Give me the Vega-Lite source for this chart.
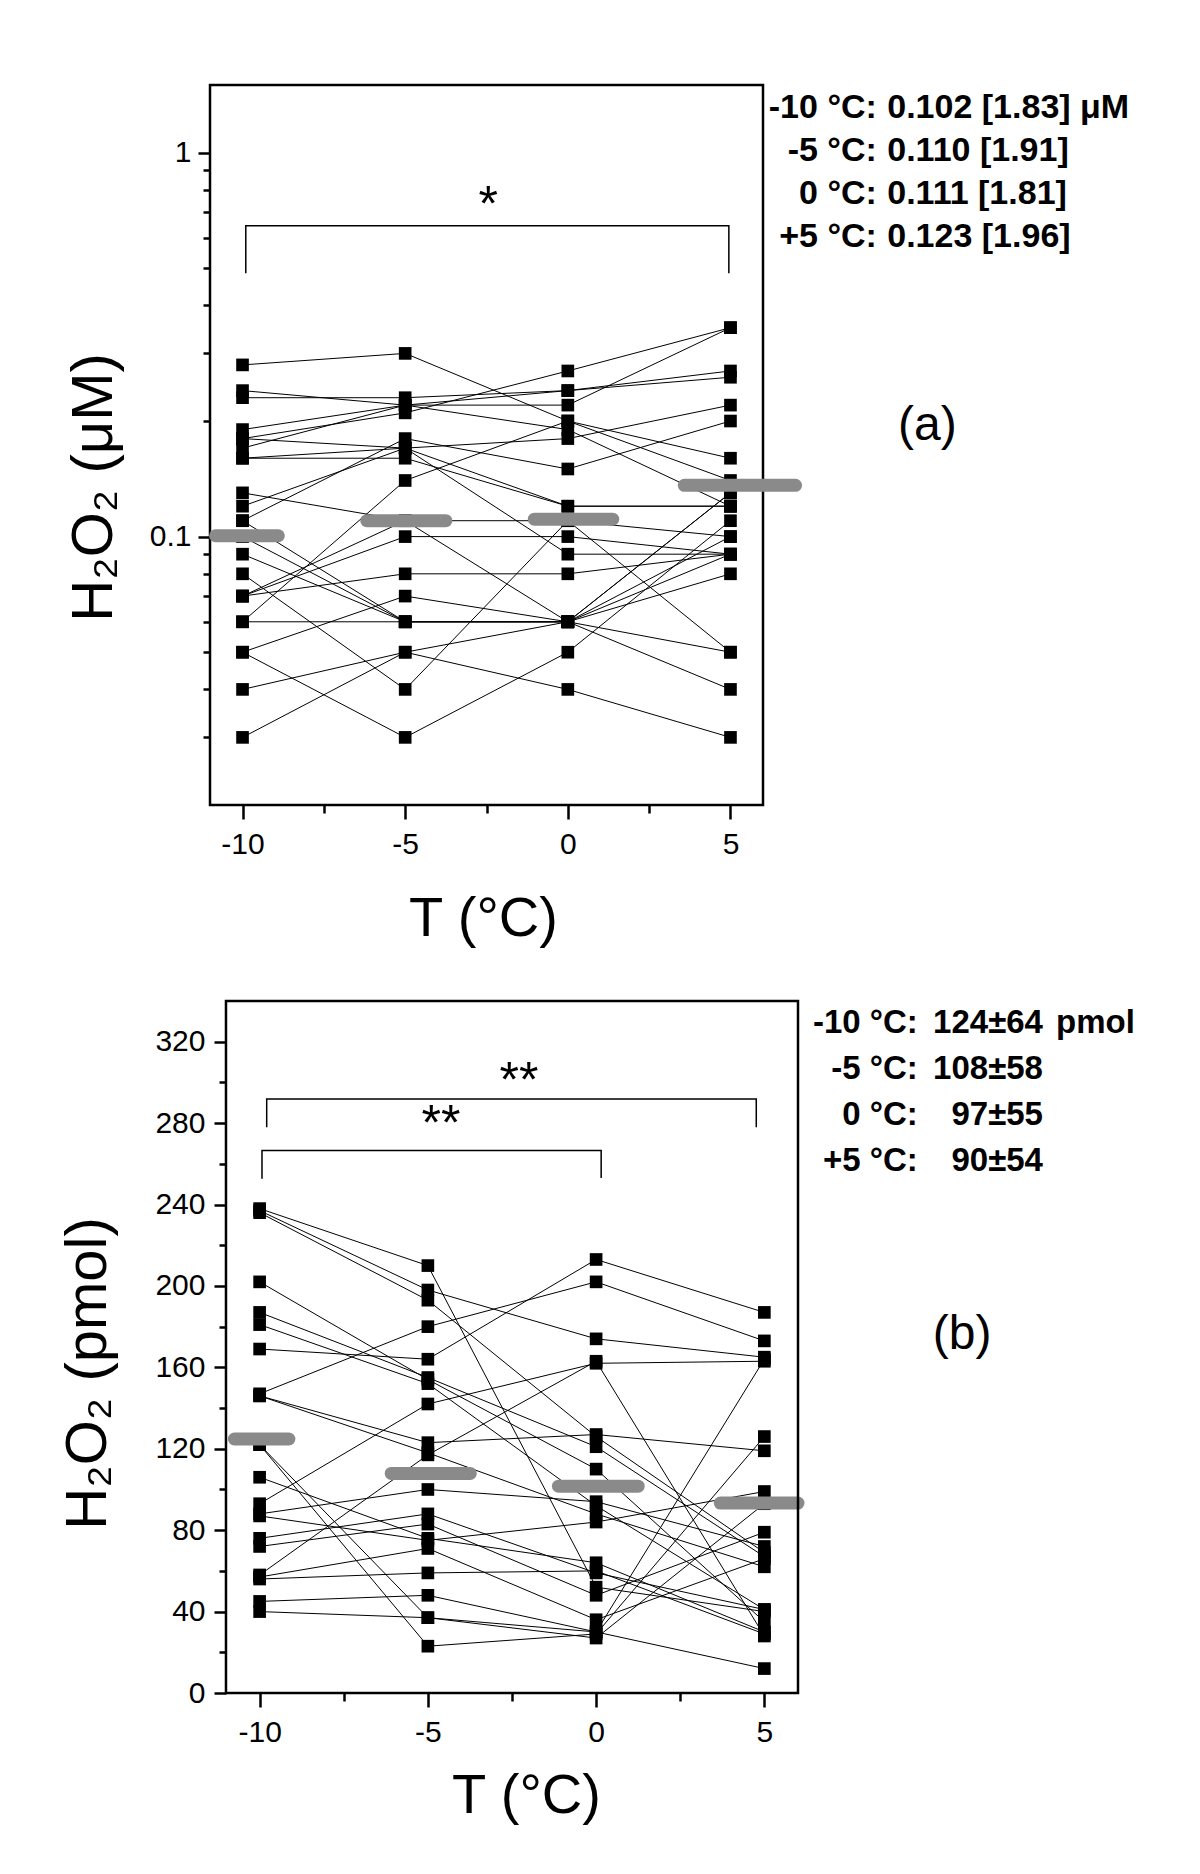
{
  "$schema": "https://vega.github.io/schema/vega-lite/v6.json",
  "background": "white",
  "padding": {"left": 59, "top": 83, "right": 10, "bottom": 10},
  "bounds": "full",
  "spacing": 51,
  "config": {
    "view": {"stroke": "black", "strokeWidth": 2.5},
    "axis": {"domain": false, "grid": false, "tickColor": "black", "tickWidth": 2.5, "labelColor": "black", "labelFont": "Liberation Sans", "labelFontSize": 30, "titleFont": "Liberation Sans", "titleFontSize": 58, "titleFontWeight": "normal", "titleColor": "black"}
  },
  "datasets": {
    "a": [
      {"id":1,"T":-10,"v":0.28},{"id":1,"T":-5,"v":0.30},{"id":1,"T":0,"v":0.20},{"id":1,"T":5,"v":0.16},
      {"id":2,"T":-10,"v":0.24},{"id":2,"T":-5,"v":0.22},{"id":2,"T":0,"v":0.19},{"id":2,"T":5,"v":0.12},
      {"id":3,"T":-10,"v":0.23},{"id":3,"T":-5,"v":0.23},{"id":3,"T":0,"v":0.24},{"id":3,"T":5,"v":0.27},
      {"id":4,"T":-10,"v":0.19},{"id":4,"T":-5,"v":0.22},{"id":4,"T":0,"v":0.24},{"id":4,"T":5,"v":0.26},
      {"id":5,"T":-10,"v":0.18},{"id":5,"T":-5,"v":0.21},{"id":5,"T":0,"v":0.27},{"id":5,"T":5,"v":0.35},
      {"id":6,"T":-10,"v":0.17},{"id":6,"T":-5,"v":0.22},{"id":6,"T":0,"v":0.22},{"id":6,"T":5,"v":0.35},
      {"id":7,"T":-10,"v":0.16},{"id":7,"T":-5,"v":0.17},{"id":7,"T":0,"v":0.18},{"id":7,"T":5,"v":0.22},
      {"id":8,"T":-10,"v":0.13},{"id":8,"T":-5,"v":0.11},{"id":8,"T":0,"v":0.11},{"id":8,"T":5,"v":0.05},
      {"id":9,"T":-10,"v":0.12},{"id":9,"T":-5,"v":0.17},{"id":9,"T":0,"v":0.12},{"id":9,"T":5,"v":0.12},
      {"id":10,"T":-10,"v":0.11},{"id":10,"T":-5,"v":0.18},{"id":10,"T":0,"v":0.15},{"id":10,"T":5,"v":0.20},
      {"id":11,"T":-10,"v":0.10},{"id":11,"T":-5,"v":0.06},{"id":11,"T":0,"v":0.06},{"id":11,"T":5,"v":0.09},
      {"id":12,"T":-10,"v":0.11},{"id":12,"T":-5,"v":0.06},{"id":12,"T":0,"v":0.06},{"id":12,"T":5,"v":0.13},
      {"id":13,"T":-10,"v":0.09},{"id":13,"T":-5,"v":0.06},{"id":13,"T":0,"v":0.06},{"id":13,"T":5,"v":0.05},
      {"id":14,"T":-10,"v":0.08},{"id":14,"T":-5,"v":0.04},{"id":14,"T":0,"v":0.11},{"id":14,"T":5,"v":0.10},
      {"id":15,"T":-10,"v":0.07},{"id":15,"T":-5,"v":0.11},{"id":15,"T":0,"v":0.06},{"id":15,"T":5,"v":0.04},
      {"id":16,"T":-10,"v":0.07},{"id":16,"T":-5,"v":0.10},{"id":16,"T":0,"v":0.10},{"id":16,"T":5,"v":0.09},
      {"id":17,"T":-10,"v":0.07},{"id":17,"T":-5,"v":0.08},{"id":17,"T":0,"v":0.08},{"id":17,"T":5,"v":0.09},
      {"id":18,"T":-10,"v":0.06},{"id":18,"T":-5,"v":0.14},{"id":18,"T":0,"v":0.20},{"id":18,"T":5,"v":0.14},
      {"id":19,"T":-10,"v":0.06},{"id":19,"T":-5,"v":0.06},{"id":19,"T":0,"v":0.06},{"id":19,"T":5,"v":0.13},
      {"id":20,"T":-10,"v":0.05},{"id":20,"T":-5,"v":0.07},{"id":20,"T":0,"v":0.06},{"id":20,"T":5,"v":0.08},
      {"id":21,"T":-10,"v":0.05},{"id":21,"T":-5,"v":0.03},{"id":21,"T":0,"v":0.05},{"id":21,"T":5,"v":0.11},
      {"id":22,"T":-10,"v":0.04},{"id":22,"T":-5,"v":0.05},{"id":22,"T":0,"v":0.06},{"id":22,"T":5,"v":0.10},
      {"id":23,"T":-10,"v":0.03},{"id":23,"T":-5,"v":0.05},{"id":23,"T":0,"v":0.04},{"id":23,"T":5,"v":0.03},
      {"id":24,"T":-10,"v":0.18},{"id":24,"T":-5,"v":0.17},{"id":24,"T":0,"v":0.09},{"id":24,"T":5,"v":0.09},
      {"id":25,"T":-10,"v":0.16},{"id":25,"T":-5,"v":0.16},{"id":25,"T":0,"v":0.12},{"id":25,"T":5,"v":0.12}
    ],
    "b": [
      {"id":1,"T":-10,"v":238},{"id":1,"T":-5,"v":210},{"id":1,"T":0,"v":52},{"id":1,"T":5,"v":40},
      {"id":2,"T":-10,"v":237},{"id":2,"T":-5,"v":198},{"id":2,"T":0,"v":174},{"id":2,"T":5,"v":165},
      {"id":3,"T":-10,"v":236},{"id":3,"T":-5,"v":193},{"id":3,"T":0,"v":126},{"id":3,"T":5,"v":69},
      {"id":4,"T":-10,"v":202},{"id":4,"T":-5,"v":154},{"id":4,"T":0,"v":110},{"id":4,"T":5,"v":35},
      {"id":5,"T":-10,"v":187},{"id":5,"T":-5,"v":155},{"id":5,"T":0,"v":121},{"id":5,"T":5,"v":67},
      {"id":6,"T":-10,"v":181},{"id":6,"T":-5,"v":152},{"id":6,"T":0,"v":92},{"id":6,"T":5,"v":41},
      {"id":7,"T":-10,"v":169},{"id":7,"T":-5,"v":164},{"id":7,"T":0,"v":213},{"id":7,"T":5,"v":187},
      {"id":8,"T":-10,"v":147},{"id":8,"T":-5,"v":180},{"id":8,"T":0,"v":202},{"id":8,"T":5,"v":173},
      {"id":9,"T":-10,"v":146},{"id":9,"T":-5,"v":123},{"id":9,"T":0,"v":127},{"id":9,"T":5,"v":119},
      {"id":10,"T":-10,"v":146},{"id":10,"T":-5,"v":118},{"id":10,"T":0,"v":88},{"id":10,"T":5,"v":62},
      {"id":11,"T":-10,"v":122},{"id":11,"T":-5,"v":37},{"id":11,"T":0,"v":30},{"id":11,"T":5,"v":164},
      {"id":12,"T":-10,"v":122},{"id":12,"T":-5,"v":23},{"id":12,"T":0,"v":29},{"id":12,"T":5,"v":126},
      {"id":13,"T":-10,"v":106},{"id":13,"T":-5,"v":76},{"id":13,"T":0,"v":64},{"id":13,"T":5,"v":30},
      {"id":14,"T":-10,"v":93},{"id":14,"T":-5,"v":142},{"id":14,"T":0,"v":162},{"id":14,"T":5,"v":163},
      {"id":15,"T":-10,"v":88},{"id":15,"T":-5,"v":100},{"id":15,"T":0,"v":94},{"id":15,"T":5,"v":72},
      {"id":16,"T":-10,"v":87},{"id":16,"T":-5,"v":75},{"id":16,"T":0,"v":84},{"id":16,"T":5,"v":99},
      {"id":17,"T":-10,"v":76},{"id":17,"T":-5,"v":88},{"id":17,"T":0,"v":59},{"id":17,"T":5,"v":41},
      {"id":18,"T":-10,"v":72},{"id":18,"T":-5,"v":83},{"id":18,"T":0,"v":48},{"id":18,"T":5,"v":79},
      {"id":19,"T":-10,"v":58},{"id":19,"T":-5,"v":117},{"id":19,"T":0,"v":163},{"id":19,"T":5,"v":28},
      {"id":20,"T":-10,"v":57},{"id":20,"T":-5,"v":71},{"id":20,"T":0,"v":36},{"id":20,"T":5,"v":66},
      {"id":21,"T":-10,"v":56},{"id":21,"T":-5,"v":59},{"id":21,"T":0,"v":60},{"id":21,"T":5,"v":29},
      {"id":22,"T":-10,"v":45},{"id":22,"T":-5,"v":48},{"id":22,"T":0,"v":30},{"id":22,"T":5,"v":12},
      {"id":23,"T":-10,"v":40},{"id":23,"T":-5,"v":37},{"id":23,"T":0,"v":27},{"id":23,"T":5,"v":93}
    ],
    "meanA": [
      {"T":-10,"lo":-10.83,"hi":-8.9,"v":0.1005},
      {"T":-5,"lo":-6.18,"hi":-3.75,"v":0.110},
      {"T":0,"lo":-1.03,"hi":1.38,"v":0.111},
      {"T":5,"lo":3.58,"hi":7.0,"v":0.136}
    ],
    "meanB": [
      {"T":-10,"lo":-10.75,"hi":-9.13,"v":124.8},
      {"T":-5,"lo":-6.09,"hi":-3.74,"v":107.9},
      {"T":0,"lo":-1.12,"hi":1.25,"v":101.6},
      {"T":5,"lo":3.69,"hi":6.0,"v":93.3}
    ],
    "brA": [
      {"g":1,"k":1,"x":-9.9,"y":0.485},{"g":1,"k":2,"x":-9.9,"y":0.645},{"g":1,"k":3,"x":4.95,"y":0.645},{"g":1,"k":4,"x":4.95,"y":0.485}
    ],
    "brB": [
      {"g":1,"k":1,"x":-9.79,"y":278},{"g":1,"k":2,"x":-9.79,"y":291.8},{"g":1,"k":3,"x":4.76,"y":291.8},{"g":1,"k":4,"x":4.76,"y":278},
      {"g":2,"k":1,"x":-9.93,"y":252.7},{"g":2,"k":2,"x":-9.93,"y":266.6},{"g":2,"k":3,"x":0.15,"y":266.6},{"g":2,"k":4,"x":0.15,"y":253}
    ],
    "starB": [
      {"s":"**","x":-2.29,"y":293.0},
      {"s":"**","x":-4.61,"y":271.7}
    ]
  },
  "vconcat": [
    {
      "width": 553,
      "height": 720,
      "resolve": {"axis": {"x": "independent", "y": "independent"}},
      "layer": [
        {
          "data": {"name": "a"},
          "mark": {"type": "line", "color": "black", "strokeWidth": 1},
          "encoding": {
            "x": {"field": "T", "type": "quantitative", "scale": {"domain": [-11, 6], "nice": false, "zero": false},
              "axis": {"orient": "bottom", "values": [-10, -5, 0, 5], "labelExpr": "'' + datum.value", "tickSize": 14, "labelPadding": 10, "title": "T (°C)", "titleFontSize": 56, "titleX": 273, "titleY": 130, "titleBaseline": "alphabetic", "titleAlign": "center", "titleAngle": 0}},
            "y": {"field": "v", "type": "quantitative", "scale": {"type": "log", "domain": [0.02, 1.5], "nice": false},
              "axis": {"orient": "left", "values": [0.1, 1], "format": "~g", "tickSize": 12, "labelPadding": 7, "title": "H₂O₂ (μM)", "titleX": -99, "titleY": 402, "titleBaseline": "alphabetic", "titleAlign": "center", "titleAngle": -90}},
            "detail": {"field": "id", "type": "nominal"}
          }
        },
        {
          "data": {"name": "a"},
          "mark": {"type": "point", "shape": "square", "filled": true, "color": "black", "size": 160, "opacity": 1},
          "encoding": {
            "x": {"field": "T", "type": "quantitative", "scale": {"domain": [-11, 6], "nice": false, "zero": false},
              "axis": {"orient": "bottom", "values": [-7.5, -2.5, 2.5], "labels": false, "tickSize": 8, "title": null}},
            "y": {"field": "v", "type": "quantitative", "scale": {"type": "log", "domain": [0.02, 1.5], "nice": false},
              "axis": {"orient": "left", "values": [0.03, 0.04, 0.05, 0.06, 0.07, 0.08, 0.09, 0.2, 0.3, 0.4, 0.5, 0.6, 0.7, 0.8, 0.9], "labels": false, "tickSize": 7, "title": null}}
          }
        },
        {
          "data": {"name": "meanA"},
          "mark": {"type": "rule", "color": "#8a8a8a", "strokeWidth": 13, "strokeCap": "round"},
          "encoding": {
            "x": {"field": "lo", "type": "quantitative", "scale": {"domain": [-11, 6], "nice": false, "zero": false}, "axis": null},
            "x2": {"field": "hi"},
            "y": {"field": "v", "type": "quantitative", "scale": {"type": "log", "domain": [0.02, 1.5], "nice": false}, "axis": null}
          }
        },
        {
          "data": {"name": "brA"},
          "mark": {"type": "line", "color": "black", "strokeWidth": 1.5},
          "encoding": {
            "x": {"field": "x", "type": "quantitative", "scale": {"domain": [-11, 6], "nice": false, "zero": false}, "axis": null},
            "y": {"field": "y", "type": "quantitative", "scale": {"type": "log", "domain": [0.02, 1.5], "nice": false}, "axis": null},
            "order": {"field": "k", "type": "quantitative"},
            "detail": {"field": "g", "type": "nominal"}
          }
        },
        {
          "data": {"values": [{}]},
          "mark": {"type": "text", "text": "*", "font": "Liberation Sans", "fontSize": 50, "align": "center", "baseline": "alphabetic", "color": "black"},
          "encoding": {
            "x": {"datum": -2.45, "type": "quantitative", "scale": {"domain": [-11, 6], "nice": false, "zero": false}, "axis": null},
            "y": {"datum": 0.662, "type": "quantitative", "scale": {"type": "log", "domain": [0.02, 1.5], "nice": false}, "axis": null}
          }
        },
        {
          "data": {"values": [{}]},
          "mark": {"type": "text", "text": ["-10 °C:", "-5 °C:", "0 °C:", "+5 °C:"], "font": "Liberation Sans", "fontWeight": "bold", "fontSize": 34, "lineHeight": 43, "align": "right", "baseline": "middle", "color": "black"},
          "encoding": {
            "x": {"datum": 9.5, "type": "quantitative", "scale": {"domain": [-11, 6], "nice": false, "zero": false}, "axis": null},
            "y": {"datum": 1.309, "type": "quantitative", "scale": {"type": "log", "domain": [0.02, 1.5], "nice": false}, "axis": null}
          }
        },
        {
          "data": {"values": [{}]},
          "mark": {"type": "text", "text": ["0.102 [1.83] μM", "0.110 [1.91]", "0.111 [1.81]", "0.123 [1.96]"], "font": "Liberation Sans", "fontWeight": "bold", "fontSize": 34, "lineHeight": 43, "align": "left", "baseline": "middle", "color": "black"},
          "encoding": {
            "x": {"datum": 9.82, "type": "quantitative", "scale": {"domain": [-11, 6], "nice": false, "zero": false}, "axis": null},
            "y": {"datum": 1.309, "type": "quantitative", "scale": {"type": "log", "domain": [0.02, 1.5], "nice": false}, "axis": null}
          }
        },
        {
          "data": {"values": [{}]},
          "mark": {"type": "text", "text": "(a)", "font": "Liberation Sans", "fontSize": 48, "align": "center", "baseline": "middle", "color": "black"},
          "encoding": {
            "x": {"datum": 11.05, "type": "quantitative", "scale": {"domain": [-11, 6], "nice": false, "zero": false}, "axis": null},
            "y": {"datum": 0.1942, "type": "quantitative", "scale": {"type": "log", "domain": [0.02, 1.5], "nice": false}, "axis": null}
          }
        }
      ]
    },
    {
      "width": 588,
      "height": 692,
      "view": {"stroke": null},
      "resolve": {"axis": {"x": "independent", "y": "independent"}},
      "layer": [
        {
          "data": {"name": "b"},
          "mark": {"type": "line", "color": "black", "strokeWidth": 1},
          "encoding": {
            "x": {"field": "T", "type": "quantitative", "scale": {"domain": [-11.475, 6], "nice": false, "zero": false},
              "axis": {"orient": "bottom", "values": [-10, -5, 0, 5], "labelExpr": "'' + datum.value", "tickSize": 14, "labelPadding": 10, "title": "T (°C)", "titleFontSize": 56, "titleX": 316, "titleY": 119, "titleBaseline": "alphabetic", "titleAlign": "center", "titleAngle": 0}},
            "y": {"field": "v", "type": "quantitative", "scale": {"domain": [0, 340], "nice": false, "zero": false},
              "axis": {"orient": "left", "offset": -16, "values": [0, 40, 80, 120, 160, 200, 240, 280, 320], "tickSize": 12, "labelPadding": 9, "title": "H₂O₂ (pmol)", "titleX": -121, "titleY": 372, "titleBaseline": "alphabetic", "titleAlign": "center", "titleAngle": -90}},
            "detail": {"field": "id", "type": "nominal"}
          }
        },
        {
          "data": {"name": "b"},
          "mark": {"type": "point", "shape": "square", "filled": true, "color": "black", "size": 160, "opacity": 1},
          "encoding": {
            "x": {"field": "T", "type": "quantitative", "scale": {"domain": [-11.475, 6], "nice": false, "zero": false},
              "axis": {"orient": "bottom", "values": [-7.5, -2.5, 2.5], "labels": false, "tickSize": 8, "title": null}},
            "y": {"field": "v", "type": "quantitative", "scale": {"domain": [0, 340], "nice": false, "zero": false},
              "axis": {"orient": "left", "offset": -16, "values": [20, 60, 100, 140, 180, 220, 260, 300], "labels": false, "tickSize": 7, "title": null}}
          }
        },
        {
          "data": {"name": "meanB"},
          "mark": {"type": "rule", "color": "#8a8a8a", "strokeWidth": 13, "strokeCap": "round"},
          "encoding": {
            "x": {"field": "lo", "type": "quantitative", "scale": {"domain": [-11.475, 6], "nice": false, "zero": false}, "axis": null},
            "x2": {"field": "hi"},
            "y": {"field": "v", "type": "quantitative", "scale": {"domain": [0, 340], "nice": false, "zero": false}, "axis": null}
          }
        },
        {
          "data": {"name": "brB"},
          "mark": {"type": "line", "color": "black", "strokeWidth": 1.5},
          "encoding": {
            "x": {"field": "x", "type": "quantitative", "scale": {"domain": [-11.475, 6], "nice": false, "zero": false}, "axis": null},
            "y": {"field": "y", "type": "quantitative", "scale": {"domain": [0, 340], "nice": false, "zero": false}, "axis": null},
            "order": {"field": "k", "type": "quantitative"},
            "detail": {"field": "g", "type": "nominal"}
          }
        },
        {
          "data": {"name": "starB"},
          "mark": {"type": "text", "font": "Liberation Sans", "fontSize": 50, "align": "center", "baseline": "alphabetic", "color": "black"},
          "encoding": {
            "x": {"field": "x", "type": "quantitative", "scale": {"domain": [-11.475, 6], "nice": false, "zero": false}, "axis": null},
            "y": {"field": "y", "type": "quantitative", "scale": {"domain": [0, 340], "nice": false, "zero": false}, "axis": null},
            "text": {"field": "s"}
          }
        },
        {
          "data": {"values": [{}]},
          "mark": {"type": "text", "text": ["-10 °C:", "-5 °C:", "0 °C:", "+5 °C:"], "font": "Liberation Sans", "fontWeight": "bold", "fontSize": 33, "lineHeight": 46, "align": "right", "baseline": "middle", "color": "black"},
          "encoding": {
            "x": {"datum": 9.56, "type": "quantitative", "scale": {"domain": [-11.475, 6], "nice": false, "zero": false}, "axis": null},
            "y": {"datum": 329.2, "type": "quantitative", "scale": {"domain": [0, 340], "nice": false, "zero": false}, "axis": null}
          }
        },
        {
          "data": {"values": [{}]},
          "mark": {"type": "text", "text": ["124±64", "108±58", "97±55", "90±54"], "font": "Liberation Sans", "fontWeight": "bold", "fontSize": 33, "lineHeight": 46, "align": "right", "baseline": "middle", "color": "black"},
          "encoding": {
            "x": {"datum": 13.28, "type": "quantitative", "scale": {"domain": [-11.475, 6], "nice": false, "zero": false}, "axis": null},
            "y": {"datum": 329.2, "type": "quantitative", "scale": {"domain": [0, 340], "nice": false, "zero": false}, "axis": null}
          }
        },
        {
          "data": {"values": [{}]},
          "mark": {"type": "text", "text": "pmol", "font": "Liberation Sans", "fontWeight": "bold", "fontSize": 33, "align": "left", "baseline": "middle", "color": "black"},
          "encoding": {
            "x": {"datum": 13.67, "type": "quantitative", "scale": {"domain": [-11.475, 6], "nice": false, "zero": false}, "axis": null},
            "y": {"datum": 329.2, "type": "quantitative", "scale": {"domain": [0, 340], "nice": false, "zero": false}, "axis": null}
          }
        },
        {
          "data": {"values": [{}]},
          "mark": {"type": "text", "text": "(b)", "font": "Liberation Sans", "fontSize": 48, "align": "center", "baseline": "middle", "color": "black"},
          "encoding": {
            "x": {"datum": 10.88, "type": "quantitative", "scale": {"domain": [-11.475, 6], "nice": false, "zero": false}, "axis": null},
            "y": {"datum": 175.9, "type": "quantitative", "scale": {"domain": [0, 340], "nice": false, "zero": false}, "axis": null}
          }
        },
        {
          "data": {"values": [{}]},
          "mark": {"type": "rect", "fill": null, "stroke": "black", "strokeWidth": 2.5},
          "encoding": {
            "x": {"datum": -11, "type": "quantitative", "scale": {"domain": [-11.475, 6], "nice": false, "zero": false}, "axis": null},
            "x2": {"datum": 6},
            "y": {"datum": 0, "type": "quantitative", "scale": {"domain": [0, 340], "nice": false, "zero": false}, "axis": null},
            "y2": {"datum": 340}
          }
        }
      ]
    }
  ]
}
